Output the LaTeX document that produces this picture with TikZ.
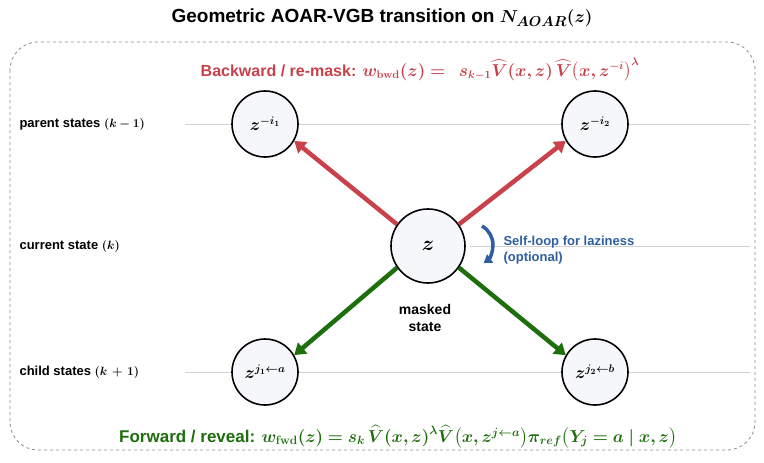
\documentclass[tikz,border=0pt]{standalone}
\usepackage{amsmath,amssymb,bm}
\usepackage{fontspec}
\setmainfont{Liberation Sans}
\usetikzlibrary{arrows.meta}
\definecolor{bred}{HTML}{C8414B}
\definecolor{fgreen}{HTML}{1E6E0E}
\definecolor{lblue}{HTML}{2F5FA0}
\definecolor{cfill}{HTML}{F6F7FA}
\tikzset{
 st/.style={circle,draw=black,line width=1.6pt,fill=cfill,minimum size=66pt,inner sep=0pt,font=\fontsize{16}{18}\selectfont},
 rowline/.style={draw=black!18,line width=0.6pt},
 lab/.style={anchor=west,font=\fontsize{13}{15}\selectfont\bfseries},
 bk/.style={draw=bred,line width=4.5pt,-{Triangle[length=11pt,width=14pt]}},
 fw/.style={draw=fgreen,line width=4.5pt,-{Triangle[length=11pt,width=14pt]}},
}
\begin{document}
\begin{tikzpicture}[x=1pt,y=-1pt]
\useasboundingbox (0,0) rectangle (764,463);
\node[font=\fontsize{19}{22}\selectfont\bfseries] (title) at (382,18) {Geometric AOAR-VGB transition on $\bm{N_{AOAR}(z)}$};
\draw[black!45,dashed,line width=0.8pt,rounded corners=28pt] (10,42) rectangle (755,450);
\draw[rowline] (185,124) -- (750,124);
\draw[rowline] (185,372) -- (750,372);
\draw[rowline] (470,246) -- (750,246);
\node[lab] (lp) at (16,124) {parent states $\bm{(k-1)}$};
\node[lab] (lc) at (16,246) {current state $\bm{(k)}$};
\node[lab] (lch) at (16,372) {child states $\bm{(k\,+\,1)}$};
\node[st] (p1) at (265,124) {$\bm{z^{-i_1}}$};
\node[st] (p2) at (595,124) {$\bm{z^{-i_2}}$};
\node[st,minimum size=74pt,font=\fontsize{22}{24}\selectfont] (z) at (428,246) {$\bm{z}$};
\node[st] (c1) at (265,372) {$\bm{z^{j_1\leftarrow a}}$};
\node[st] (c2) at (595,372) {$\bm{z^{j_2\leftarrow b}}$};
\draw[bk] (z.145) -- (p1.-30);
\draw[bk] (z.35) -- (p2.-150);
\draw[fw] (z.-145) -- (c1.30);
\draw[fw] (z.-35) -- (c2.150);
\draw[lblue,line width=3.5pt,-{Triangle[length=8pt,width=10pt]}] (482,226) arc[start angle=60,end angle=-55,radius=22pt];
\node[anchor=west,text=lblue,font=\fontsize{13}{16}\selectfont\bfseries,align=left] (sl) at (500,250) {Self-loop for laziness\\(optional)};
\node[font=\fontsize{14}{17}\selectfont\bfseries,align=center] (ms) at (425,318) {masked\\state};
\node[text=bred,font=\fontsize{16}{19}\selectfont\bfseries] (bw) at (420,70) {Backward / re-mask: $\bm{w_{\mathbf{bwd}}(z) =\ \ s_{k-1}\widehat{V}(x,z)\,\widehat{V}\big(x,z^{-i}\big)^{\lambda}}$};
\node[text=fgreen,font=\fontsize{17}{20}\selectfont\bfseries] (fwd) at (398,437) {Forward / reveal: $\bm{w_{\mathbf{fwd}}(z) = s_k\,\widehat{V}(x,z)^{\lambda}\widehat{V}\big(x,z^{j\leftarrow a}\big)\pi_{ref}\big(Y_j=a\mid x,z\big)}$};
\end{tikzpicture}
\end{document}
